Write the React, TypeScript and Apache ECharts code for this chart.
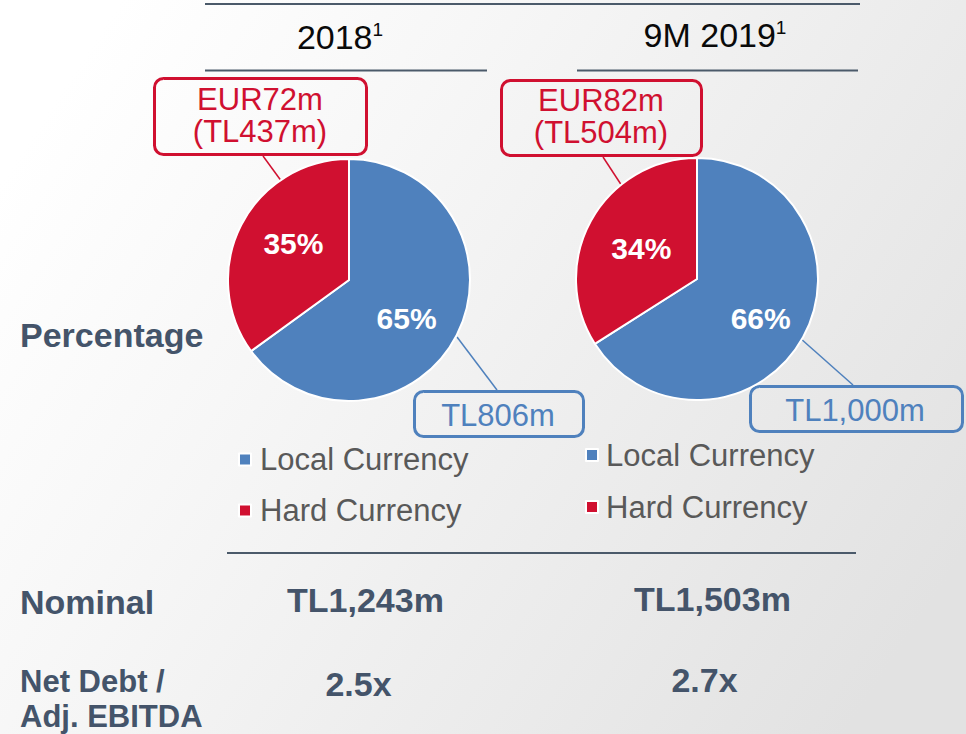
import React, { useEffect, useRef } from "react";
import * as echarts from "echarts";

// ---- data ----
const periodTitles = ["2018", "9M 2019"];
const footnoteMark = "1";
const categories = ["Local Currency", "Hard Currency"];
const share2018 = [65, 35];
const share9M2019 = [66, 34];
const hardCurrencyEUR = ["EUR72m", "EUR82m"];
const hardCurrencyTL = ["(TL437m)", "(TL504m)"];
const localCurrencyTL = ["TL806m", "TL1,000m"];
const rowLabels = ["Percentage", "Nominal", "Net Debt /", "Adj. EBITDA"];
const nominalDebt = ["TL1,243m", "TL1,503m"];
const netDebtToEbitda = ["2.5x", "2.7x"];

const BLUE = "#4F81BD";
const RED = "#D01030";
const SLATE = "#44546A";
const LINE = "#4B5A6A";
const FONT = '"Liberation Sans", Arial, sans-serif';

export default function App() {
  const ref = useRef<HTMLDivElement>(null);

  useEffect(() => {
    if (!ref.current) return;
    const chart = echarts.init(ref.current, undefined, { renderer: "svg" });

    const colors = [BLUE, RED];
    const labelOffsets = [
      [[1, 10], [1, -8]],
      [[8, 9], [0, 0]],
    ];
    const shares = [share2018, share9M2019];
    const centers = [[349, 280], [697, 279]];

    const series = shares.map((vals, si) => ({
      type: "pie",
      center: centers[si],
      radius: 121,
      startAngle: 90,
      clockwise: true,
      silent: true,
      itemStyle: { borderColor: "#ffffff", borderWidth: 2 },
      label: {
        show: true,
        position: "inside",
        formatter: "{c}%",
        color: "#ffffff",
        fontFamily: FONT,
        fontWeight: "bold",
        fontSize: 30,
      },
      labelLine: { show: false },
      data: vals.map((v, i) => ({
        name: categories[i],
        value: v,
        itemStyle: { color: colors[i] },
        label: { offset: labelOffsets[si][i] },
      })),
    }));

    const txt = (
      text: string,
      x: number,
      y: number,
      opts: { size: number; color: string; bold?: boolean; align?: string; lineHeight?: number }
    ) => ({
      type: "text",
      silent: true,
      style: {
        text,
        x,
        y,
        fill: opts.color,
        fontFamily: FONT,
        fontSize: opts.size,
        fontWeight: opts.bold ? "bold" : "normal",
        align: opts.align || "center",
        verticalAlign: "middle",
        lineHeight: opts.lineHeight || opts.size,
      },
    });
    const title = (text: string, x: number, y: number) => ({
      type: "text",
      silent: true,
      style: {
        text: "{m|" + text + "}{s|" + footnoteMark + "}",
        x,
        y,
        align: "center",
        verticalAlign: "middle",
        rich: {
          m: { fontFamily: FONT, fontSize: 34, lineHeight: 34, fill: "#0a0a0a" },
          s: {
            fontFamily: FONT,
            fontSize: 19,
            lineHeight: 24,
            verticalAlign: "top",
            fill: "#0a0a0a",
          },
        },
      },
    });
    const line = (x1: number, y1: number, x2: number, y2: number, stroke: string, w: number) => ({
      type: "line",
      silent: true,
      shape: { x1, y1, x2, y2 },
      style: { stroke, lineWidth: w },
    });
    const box = (x: number, y: number, w: number, h: number, stroke: string) => ({
      type: "rect",
      silent: true,
      shape: { x, y, width: w, height: h, r: 9 },
      style: { fill: "none", stroke, lineWidth: 3 },
    });

    const graphics: any[] = [
      {
        type: "rect",
        silent: true,
        z: -10,
        shape: { x: 0, y: 0, width: 966, height: 734 },
        style: {
          fill: new echarts.graphic.LinearGradient(0, 0.25, 1, 0.75, [
            { offset: 0, color: "#ffffff" },
            { offset: 0.3, color: "#f7f7f7" },
            { offset: 1, color: "#e2e2e2" },
          ]),
        },
      },
      // header rules
      line(205, 4, 860, 4, LINE, 2),
      line(205, 70.5, 487, 70.5, LINE, 2),
      line(577, 70.5, 858, 70.5, LINE, 2),
      line(227, 553, 856, 553, LINE, 2),
      // titles
      title(periodTitles[0], 340, 37),
      title(periodTitles[1], 715, 35),
      // row labels
      txt(rowLabels[0], 20, 335, { size: 34, color: SLATE, bold: true, align: "left" }),
      txt(rowLabels[1], 20, 602, { size: 34, color: SLATE, bold: true, align: "left" }),
      txt(rowLabels[2], 20, 681, { size: 31, color: SLATE, bold: true, align: "left" }),
      txt(rowLabels[3], 20, 716, { size: 31, color: SLATE, bold: true, align: "left" }),
      // table values
      txt(nominalDebt[0], 365.5, 600, { size: 34, color: SLATE, bold: true }),
      txt(nominalDebt[1], 712.5, 599, { size: 34, color: SLATE, bold: true }),
      txt(netDebtToEbitda[0], 358.5, 684, { size: 34, color: SLATE, bold: true }),
      txt(netDebtToEbitda[1], 704.5, 680, { size: 34, color: SLATE, bold: true }),
      // hard currency callouts
      line(263, 156, 282, 182, RED, 1.5),
      box(154.5, 78.5, 212, 76, RED),
      txt(hardCurrencyEUR[0] + "\n" + hardCurrencyTL[0], 260, 115, { size: 31, color: RED, lineHeight: 32 }),
      line(603, 157, 622, 186, RED, 1.5),
      box(501.5, 80.5, 200, 75, RED),
      txt(hardCurrencyEUR[1] + "\n" + hardCurrencyTL[1], 601, 116, { size: 31, color: RED, lineHeight: 32 }),
      // local currency callouts
      line(457, 337, 497, 390, BLUE, 1.5),
      box(414.5, 391.5, 169, 45, BLUE),
      txt(localCurrencyTL[0], 498, 415, { size: 31, color: BLUE }),
      line(800, 338, 853, 385, BLUE, 1.5),
      box(750.5, 386.5, 212, 45, BLUE),
      txt(localCurrencyTL[1], 855, 410, { size: 31, color: BLUE }),
    ];

    const legendBase = {
      orient: "vertical",
      padding: 0,
      itemWidth: 12,
      itemHeight: 12,
      icon: "rect",
      selectedMode: false,
      itemStyle: { borderColor: "#ffffff", borderWidth: 2 },
      textStyle: {
        fontFamily: FONT,
        fontSize: 31,
        color: "#595959",
        lineHeight: 34,
      },
      data: categories,
    };

    chart.setOption({
      animation: false,
      graphic: graphics,
      legend: [
        { ...legendBase, left: 238, top: 442.5, itemGap: 17, textStyle: { ...legendBase.textStyle, padding: [0, 0, 0, 4] } },
        { ...legendBase, left: 585, top: 438, itemGap: 18, textStyle: { ...legendBase.textStyle, padding: [0, 0, 0, 3] } },
      ],
      series,
    });

    return () => chart.dispose();
  }, []);

  return (
    <div
      ref={ref}
      style={{ position: "absolute", left: 0, top: 0, width: 966, height: 734 }}
    />
  );
}
